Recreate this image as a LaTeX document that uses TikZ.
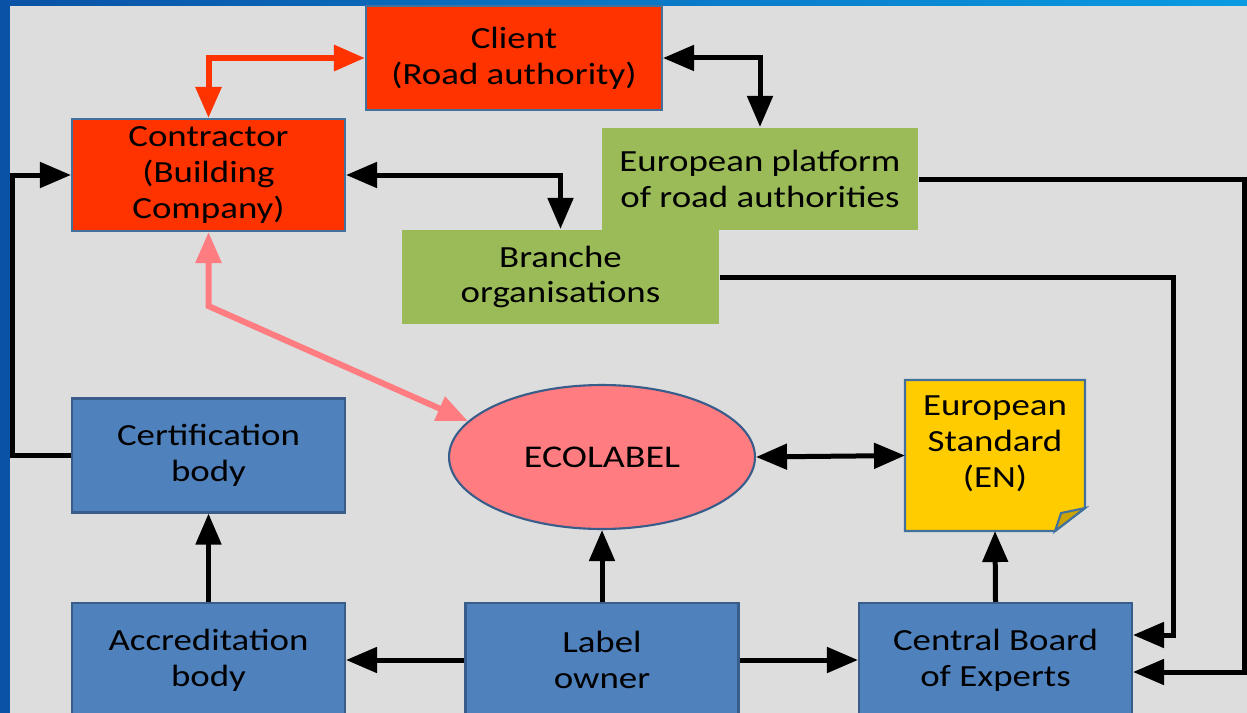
\documentclass[tikz,border=0pt]{standalone}
\usepackage{fontspec}
\setmainfont{Carlito}[FakeStretch=1.2]
\usetikzlibrary{arrows.meta, shapes.geometric, calc, backgrounds}

\definecolor{slidegrey}{HTML}{DDDDDD}
\definecolor{slidedark}{HTML}{0A52A6}
\definecolor{slidelight}{HTML}{0A9BE3}
\definecolor{boxline}{HTML}{41719C}
\definecolor{redfill}{HTML}{FF3300}
\definecolor{greenfill}{HTML}{9BBB59}
\definecolor{bluefill}{HTML}{4F81BD}
\definecolor{blueline}{HTML}{385D8A}
\definecolor{pinkfill}{HTML}{FF7C80}
\definecolor{goldfill}{HTML}{FFCC00}
\definecolor{golddark}{HTML}{CCA300}

\begin{document}
\begin{tikzpicture}[x=0.02cm, y=-0.02cm, ->, >={Triangle[length=0.62cm, width=0.5cm]}, line width=0.1cm,
	box/.style={rectangle, line width=1.2pt, align=center, inner sep=0pt, font=\fontsize{17.5}{20.4}\selectfont},
	redbox/.style={box, draw=boxline, fill=redfill},
	greenbox/.style={box, fill=greenfill},
	bluebox/.style={box, draw=blueline, fill=bluefill, minimum width=5.46cm, minimum height=2.28cm},
	redarrow/.style={draw=redfill, line width=0.12cm},
	pinkarrow/.style={draw=pinkfill, line width=0.12cm}]
		\useasboundingbox (0,0) rectangle (1247,713);
		\clip (0,0) rectangle (1247,713);
		\begin{scope}[on background layer]
			\shade[left color=slidedark, right color=slidelight] (0,0) rectangle (1247,713);
			\fill[slidegrey] (10,6) rectangle (1247,713);
		\end{scope}
		
		\node[redbox, minimum width=5.92cm, minimum height=2.08cm] (client) at (514, 58) {Client\\(Road authority)};
		\node[redbox, minimum width=5.46cm, minimum height=2.24cm] (contractor) at (208.5, 175) {Contractor\\(Building\\Company)};
		\node[greenbox, minimum width=6.32cm, minimum height=2.04cm] (platform) at (760, 179) {European platform\\of road authorities};
		\node[greenbox, minimum width=6.34cm, minimum height=1.88cm] (branche) at (560.5, 277) {Branche\\organisations};
		\node[bluebox] (cert) at (208.5, 455.5) {Certification\\body};
		\node[bluebox] (accred) at (208.5, 660) {Accreditation\\body};
		\node[bluebox] (label) at (602, 660) {Label\\owner};
		\node[bluebox] (central) at (995.5, 660) {Central Board\\of Experts};
		\node[ellipse, draw=blueline, fill=pinkfill, line width=1.2pt, minimum width=6.12cm, minimum height=2.88cm,
			font=\fontsize{18}{21}\selectfont] (ecolabel) at (602, 457) {ECOLABEL};
		\node[box, minimum width=3.56cm, minimum height=2.98cm,
			label={[align=center, font=\fontsize{17.5}{20.4}\selectfont, yshift=0.23cm]center:European\\Standard\\(EN)}] (en) at (995, 455.5) {};
		
		\begin{scope}[on background layer]
			\filldraw[-, draw=boxline, fill=goldfill, line width=1.2pt] (en.north west) -- (en.north east)
				-- ($(en.south east)+(0,-23)$) -- ($(en.south east)+(-30,0)$) -- (en.south west) -- cycle;
			\filldraw[-, draw=boxline, fill=golddark, line width=1.2pt] ($(en.south east)+(0,-23)$)
				-- ($(en.south east)+(-24,-18)$) -- ($(en.south east)+(-30,0)$) -- cycle;
		\end{scope}
		
		\draw[redarrow, <->] (client.west) -| (contractor.north);
		\draw[<->] (client.east) -| (platform.north);
		\draw[<->] (contractor.east) -| (branche.north);
		\draw[pinkarrow, <->] (contractor.south) -- ++(0,74) -- (ecolabel.165);
		\draw (cert.west) -- ++(-58,0) |- (contractor.west);
		\draw (accred.north) -- (cert.south);
		\draw (label.west) -- (accred.east);
		\draw (label.north) -- (ecolabel.south);
		\draw (label.east) -- (central.west);
		\draw (central.north) -- (en.south);
		\draw[<->] (ecolabel.east) -- (en.west);
		\draw (branche.east) -- ++(453,0) |- ($(central.east)+(0,-25)$);
		\draw (platform.east) -- ++(325,0) |- ($(central.east)+(0,12)$);
	\end{tikzpicture}
\end{document}
